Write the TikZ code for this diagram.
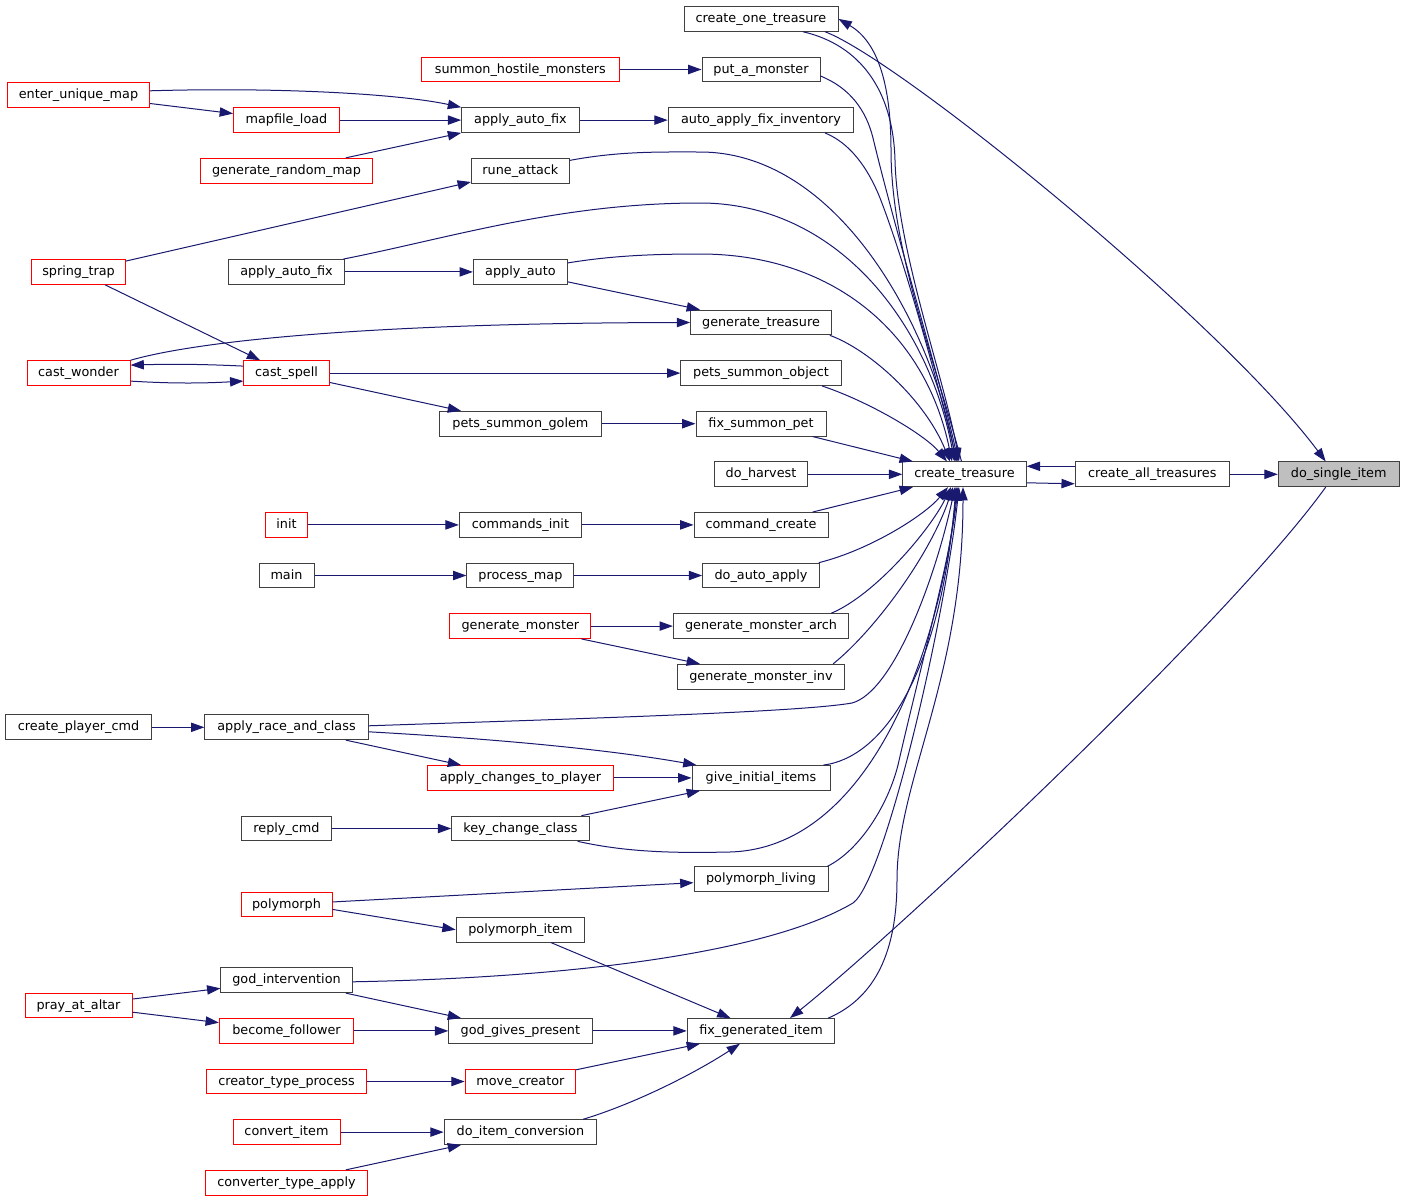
\documentclass[tikz,border=0pt]{standalone}
\usepackage{fontspec}
\setmainfont{DejaVu Sans}
\usetikzlibrary{arrows.meta,calc}
\definecolor{edgeblue}{RGB}{25,25,112}
\definecolor{boxgray}{RGB}{64,64,64}
\definecolor{boxred}{RGB}{255,0,0}
\definecolor{focusfill}{RGB}{191,191,191}
\begin{document}
\begin{tikzpicture}[x=0.75pt,y=-0.75pt,
  fn/.style={draw=boxgray, line width=0.75pt, rectangle, minimum height=18.5pt,
    inner xsep=1pt, inner ysep=0pt, text height=7.2pt, text depth=1.8pt,
    font=\fontsize{9.6}{11}\selectfont},
  rfn/.style={fn, draw=boxred},
  bw/.style={minimum width={(#1-1)*0.75pt}},
  call/.style={draw=edgeblue, line width=0.75pt, -{Triangle[length=10pt,width=7pt]}},
]
\fill[white] (0,0) rectangle (1404,1203);
\useasboundingbox (0,0) rectangle (1404,1203);

% column 7, 6, 5
\node[fn,bw=121.8,fill=focusfill] (dsi) at (1338.7,474.3) {do\_single\_item};
\node[fn,bw=154.8] (cat) at (1152.2,474.3) {create\_all\_treasures};
\node[fn,bw=124.4] (ct) at (964.5,474.3) {create\_treasure};

% column 4
\node[fn,bw=155]   (cot)  at (761,18.9)   {create\_one\_treasure};
\node[fn,bw=119]   (pam)  at (761,69.5)   {put\_a\_monster};
\node[fn,bw=186.6] (aafi) at (761,120.1)  {auto\_apply\_fix\_inventory};
\node[fn,bw=141.7] (gt)   at (761,322.5)  {generate\_treasure};
\node[fn,bw=161.3] (pso)  at (761,373.1)  {pets\_summon\_object};
\node[fn,bw=131]   (fsp)  at (761,423.7)  {fix\_summon\_pet};
\node[fn,bw=94.3]  (dh)   at (761,474.3)  {do\_harvest};
\node[fn,bw=135]   (cc)   at (761,524.9)  {command\_create};
\node[fn,bw=117.7] (daa)  at (761,575.5)  {do\_auto\_apply};
\node[fn,bw=176.3] (gma)  at (761,626.1)  {generate\_monster\_arch};
\node[fn,bw=168.3] (gmi)  at (761,676.7)  {generate\_monster\_inv};
\node[fn,bw=139]   (gii)  at (761,777.9)  {give\_initial\_items};
\node[fn,bw=135]   (pl)   at (761,879.1)  {polymorph\_living};
\node[fn,bw=148.6] (fgi)  at (761,1030.9) {fix\_generated\_item};

% column 3
\node[rfn,bw=199]  (shm)  at (520.4,69.5)   {summon\_hostile\_monsters};
\node[fn,bw=118.5] (aaf3) at (520.4,120.1)  {apply\_auto\_fix};
\node[fn,bw=99]    (ra)   at (520.4,170.7)  {rune\_attack};
\node[fn,bw=95]    (aa)   at (520.4,271.9)  {apply\_auto};
\node[fn,bw=163.4] (psg)  at (520.4,423.7)  {pets\_summon\_golem};
\node[fn,bw=123.2] (ci)   at (520.4,524.9)  {commands\_init};
\node[fn,bw=108]   (prm)  at (520.4,575.5)  {process\_map};
\node[rfn,bw=142]  (gm)   at (520.4,626.1)  {generate\_monster};
\node[rfn,bw=187]  (actp) at (520.4,777.9)  {apply\_changes\_to\_player};
\node[fn,bw=138.4] (kcc)  at (520.4,828.5)  {key\_change\_class};
\node[fn,bw=129.5] (pi)   at (520.4,929.7)  {polymorph\_item};
\node[fn,bw=144.2] (ggp)  at (520.4,1030.9) {god\_gives\_present};
\node[rfn,bw=111.6] (mc)  at (520.4,1081.5) {move\_creator};
\node[fn,bw=153.5] (dic)  at (520.4,1132.1) {do\_item\_conversion};

% column 2
\node[rfn,bw=107]   (ml)   at (286.5,120.1)  {mapfile\_load};
\node[rfn,bw=173]   (grm)  at (286.5,170.7)  {generate\_random\_map};
\node[fn,bw=117.8]  (aaf2) at (286.5,271.9)  {apply\_auto\_fix};
\node[rfn,bw=86.2]  (cs)   at (286.5,373.1)  {cast\_spell};
\node[rfn,bw=42.8]  (ini)  at (286.5,524.9)  {init};
\node[fn,bw=56]     (mn)   at (286.5,575.5)  {main};
\node[fn,bw=164.3]  (arc)  at (286.5,727.3)  {apply\_race\_and\_class};
\node[fn,bw=91]     (rc)   at (286.5,828.5)  {reply\_cmd};
\node[rfn,bw=92]    (poly) at (286.5,904.4)  {polymorph};
\node[fn,bw=132.2]  (gi)   at (286.5,980.3)  {god\_intervention};
\node[rfn,bw=135.2] (bf)   at (286.5,1030.9) {become\_follower};
\node[rfn,bw=161.2] (ctp)  at (286.5,1081.5) {creator\_type\_process};
\node[rfn,bw=108]   (cvi)  at (286.5,1132.1) {convert\_item};
\node[rfn,bw=163]   (cta)  at (286.5,1182.7) {converter\_type\_apply};

% column 1
\node[rfn,bw=143.3] (eum) at (78.5,94.8)   {enter\_unique\_map};
\node[rfn,bw=95]    (st)  at (78.5,271.9)  {spring\_trap};
\node[rfn,bw=104]   (cw)  at (78.5,373.1)  {cast\_wonder};
\node[fn,bw=147.7]  (cpc) at (78.5,727.3)  {create\_player\_cmd};
\node[rfn,bw=108]   (paa) at (78.5,1005.6) {pray\_at\_altar};

% straight connectors
\draw[call] (cat) -- (dsi);
\draw[call] (shm) -- (pam);
\draw[call] (aaf3) -- (aafi);
\draw[call] (ml) -- (aaf3);
\draw[call] (eum) -- (ml);
\draw[call] (grm) -- (aaf3);
\draw[call] (st) -- (ra);
\draw[call] (st) -- (cs);
\draw[call] (aaf2) -- (aa);
\draw[call] (aa) -- (gt);
\draw[call] (cs) -- (pso);
\draw[call] (cs) -- (psg);
\draw[call] (psg) -- (fsp);
\draw[call] (fsp) -- (ct);
\draw[call] (dh) -- (ct);
\draw[call] (cc) -- (ct);
\draw[call] (ini) -- (ci);
\draw[call] (ci) -- (cc);
\draw[call] (mn) -- (prm);
\draw[call] (prm) -- (daa);
\draw[call] (gm) -- (gma);
\draw[call] (gm) -- (gmi);
\draw[call] (cpc) -- (arc);
\draw[call] (arc) -- (actp);
\draw[call] (actp) -- (gii);
\draw[call] (kcc) -- (gii);
\draw[call] (rc) -- (kcc);
\draw[call] (poly) -- (pl);
\draw[call] ($(poly.east)+(0,5)$) -- (pi.west);
\draw[call] (pi) -- (fgi);
\draw[call] (paa) -- (gi);
\draw[call] (paa) -- (bf);
\draw[call] (gi) -- (ggp);
\draw[call] (bf) -- (ggp);
\draw[call] (ggp) -- (fgi);
\draw[call] (ctp) -- (mc);
\draw[call] (mc) -- (fgi);
\draw[call] (cvi) -- (dic);
\draw[call] (cta) -- (dic);

% two-way pairs
\draw[call] ($(cat.west)+(0,-8)$) -- ($(ct.east)+(0,-8)$);
\draw[call] ($(ct.east)+(0,8.5)$) -- ($(cat.west)+(0,9.5)$);
\draw[call] ($(cs.west)+(0,-7)$) .. controls (200,364) and (170,364) .. ($(cw.east)+(0,-8)$);
\draw[call] ($(cw.east)+(0,8)$) .. controls (170,383.5) and (200,383.5) .. ($(cs.west)+(0,8)$);

% long curves on the right
\draw[call] ($(cot.south)+(64,0)$) .. controls (900,60) and (1220,320) .. ($(dsi.north)+(-13,0)$);
\draw[call] ($(dsi.south)+(-13,0)$) .. controls (1230,620) and (900,930) .. ($(fgi.north)+(29,0)$);
\draw[call] ($(cot.south)+(42,0)$) .. controls (860,45) and (893,90) .. (895,160) .. controls (897,250) and (945,380) .. ($(ct.north)+(-5.5,0)$);
\draw[call] ($(ct.north)+(-3,0)$) .. controls (935,360) and (891,250) .. (891,150) .. controls (891,85) and (878,42) .. (cot.east);

% into create_treasure from above
\draw[call] ($(pam.east)+(0,6.5)$) .. controls (850,88) and (866,110) .. (873,138) .. controls (895,230) and (943,390) .. ($(ct.north)+(-6.5,0)$);
\draw[call] ($(aafi.south)+(64,0)$) .. controls (850,143) and (868,168) .. (880,198) .. controls (908,270) and (942,400) .. ($(ct.north)+(-7.5,0)$);
\draw[call] ($(ra.north east)+(0,2.5)$) .. controls (620,151) and (660,152) .. (700,152) .. controls (840,152) and (932,330) .. ($(ct.north)+(-8.5,0)$);
\draw[call] ($(aaf2.north east)+(-2,0)$) .. controls (450,238) and (560,203) .. (700,203) .. controls (835,203) and (928,320) .. ($(ct.north)+(-10,0)$);
\draw[call] ($(aa.east)+(0,-9)$) .. controls (610,256) and (650,254) .. (700,254) .. controls (830,254) and (925,330) .. ($(ct.north)+(-12.5,0)$);
\draw[call] ($(gt.south east)+(-2,0)$) .. controls (870,350) and (925,400) .. ($(ct.north)+(-14.5,0)$);
\draw[call] ($(pso.south)+(61,0)$) .. controls (870,402) and (925,435) .. ($(ct.north)+(-17.5,0)$);

% into create_treasure from below
\draw[call] ($(daa.north east)+(-1,0)$) .. controls (870,550) and (925,515) .. ($(ct.south)+(-16.5,0)$);
\draw[call] ($(gma.north east)+(-18,0)$) .. controls (875,595) and (930,530) .. ($(ct.south)+(-13.5,0)$);
\draw[call] ($(gmi.north east)+(-12,0)$) .. controls (875,630) and (930,555) .. ($(ct.south)+(-11.5,0)$);
\draw[call] ($(arc.east)+(0,-1.5)$) .. controls (600,718) and (800,712) .. (852,703) .. controls (893,692) and (935,580) .. ($(ct.south)+(-9.5,0)$);
\draw[call] ($(gii.north east)+(-7,0)$) .. controls (880,758) and (940,680) .. ($(ct.south)+(-8.5,0)$);
\draw[call] ($(kcc.south east)+(-12,0)$) .. controls (630,853) and (680,853) .. (730,852) .. controls (870,848) and (940,650) .. ($(ct.south)+(-7.5,0)$);
\draw[call] ($(pl.north east)+(-1,0)$) .. controls (860,850) and (888,805) .. (898,765) .. controls (922,660) and (950,560) .. ($(ct.south)+(-6.5,0)$);
\draw[call] ($(gi.east)+(0,1.5)$) .. controls (560,978) and (765,955) .. (853,903) .. controls (885,880) and (945,620) .. ($(ct.south)+(-5.5,0)$);
\draw[call] ($(fgi.north east)+(-7,0)$) .. controls (870,1000) and (897,960) .. (897,880) .. controls (897,780) and (963,680) .. ($(ct.south)+(-1.5,0)$);

% other curves on the left
\draw[call] ($(eum.east)+(0,-4)$) .. controls (280,87) and (400,94) .. (aaf3.north west);
\draw[call] (cw.north east) .. controls (190,343) and (350,323) .. (gt.west);
\draw[call] ($(arc.east)+(0,4.5)$) .. controls (480,738) and (600,748) .. ($(gii.north west)+(5,0)$);
\draw[call] ($(dic.north east)+(-14,0)$) .. controls (640,1102) and (700,1070) .. ($(fgi.south)+(-21,0)$);
\end{tikzpicture}
\end{document}
